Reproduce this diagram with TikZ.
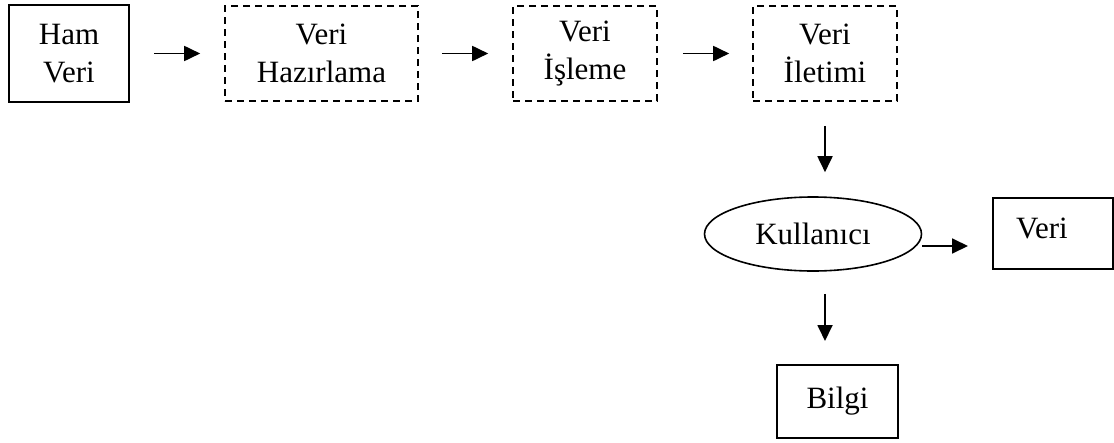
\documentclass[tikz,border=0pt]{standalone}
\usepackage{fontspec}
\setmainfont{Liberation Serif}
\usetikzlibrary{arrows.meta,shapes.geometric}
\begin{document}
\begin{tikzpicture}[x=1pt,y=-1pt,
  font=\fontsize{31}{37.5}\selectfont,
  solidbox/.style={draw,rectangle,line width=2pt,align=center,inner sep=0pt},
  dashbox/.style={draw,rectangle,line width=1.6pt,dash pattern=on 7pt off 5pt,align=center,inner sep=0pt},
  oval/.style={draw,ellipse,line width=1.6pt,inner sep=0pt},
  arr/.style={line width=1.8pt,-{Triangle[length=16pt,width=15pt]}},
]
\useasboundingbox (0,0) rectangle (1114,442);

% processing chain
\node[solidbox,minimum width=120pt,minimum height=97pt] (ham) at (69,53.5) {Ham\\Veri};
\node[dashbox,minimum width=193pt,minimum height=95pt] (haz) at (321.5,53.5) {Veri\\Hazırlama};
\node[dashbox,minimum width=144pt,minimum height=95pt] (isl) at (585,53.5) {Veri\\İşleme};
\node[dashbox,minimum width=144pt,minimum height=95pt] (ilet) at (825,53.5) {Veri\\İletimi};

% user and outputs
\node[oval,minimum width=217pt,minimum height=74pt] (kul) at (813,234) {Kullanıcı};
\node[solidbox,minimum width=120pt,minimum height=71pt] (veri) at (1053,233.5) {};
\node[inner sep=0pt,anchor=base] (veritxt) at (1042,238) {Veri};
\node[solidbox,minimum width=121pt,minimum height=73pt] (bilgi) at (837.5,401.5) {Bilgi};

% connectors
\draw[arr,shorten <=24pt,shorten >=24pt] (ham.east) -- (haz.west);
\draw[arr,shorten <=23pt,shorten >=24pt] (haz.east) -- (isl.west);
\draw[arr,shorten <=25pt,shorten >=23pt] (isl.east) -- (ilet.west);
\draw[arr,shorten <=24pt,shorten >=24pt] (ilet.south) -- (ilet.south |- kul.north);
\draw[arr,shorten >=24pt] ([yshift=-12pt]kul.east) -- ([yshift=-12pt]kul.east -| veri.west);
\draw[arr,shorten <=22pt,shorten >=23pt] (kul.south -| ilet.south) -- (bilgi.north -| ilet.south);
\end{tikzpicture}
\end{document}
